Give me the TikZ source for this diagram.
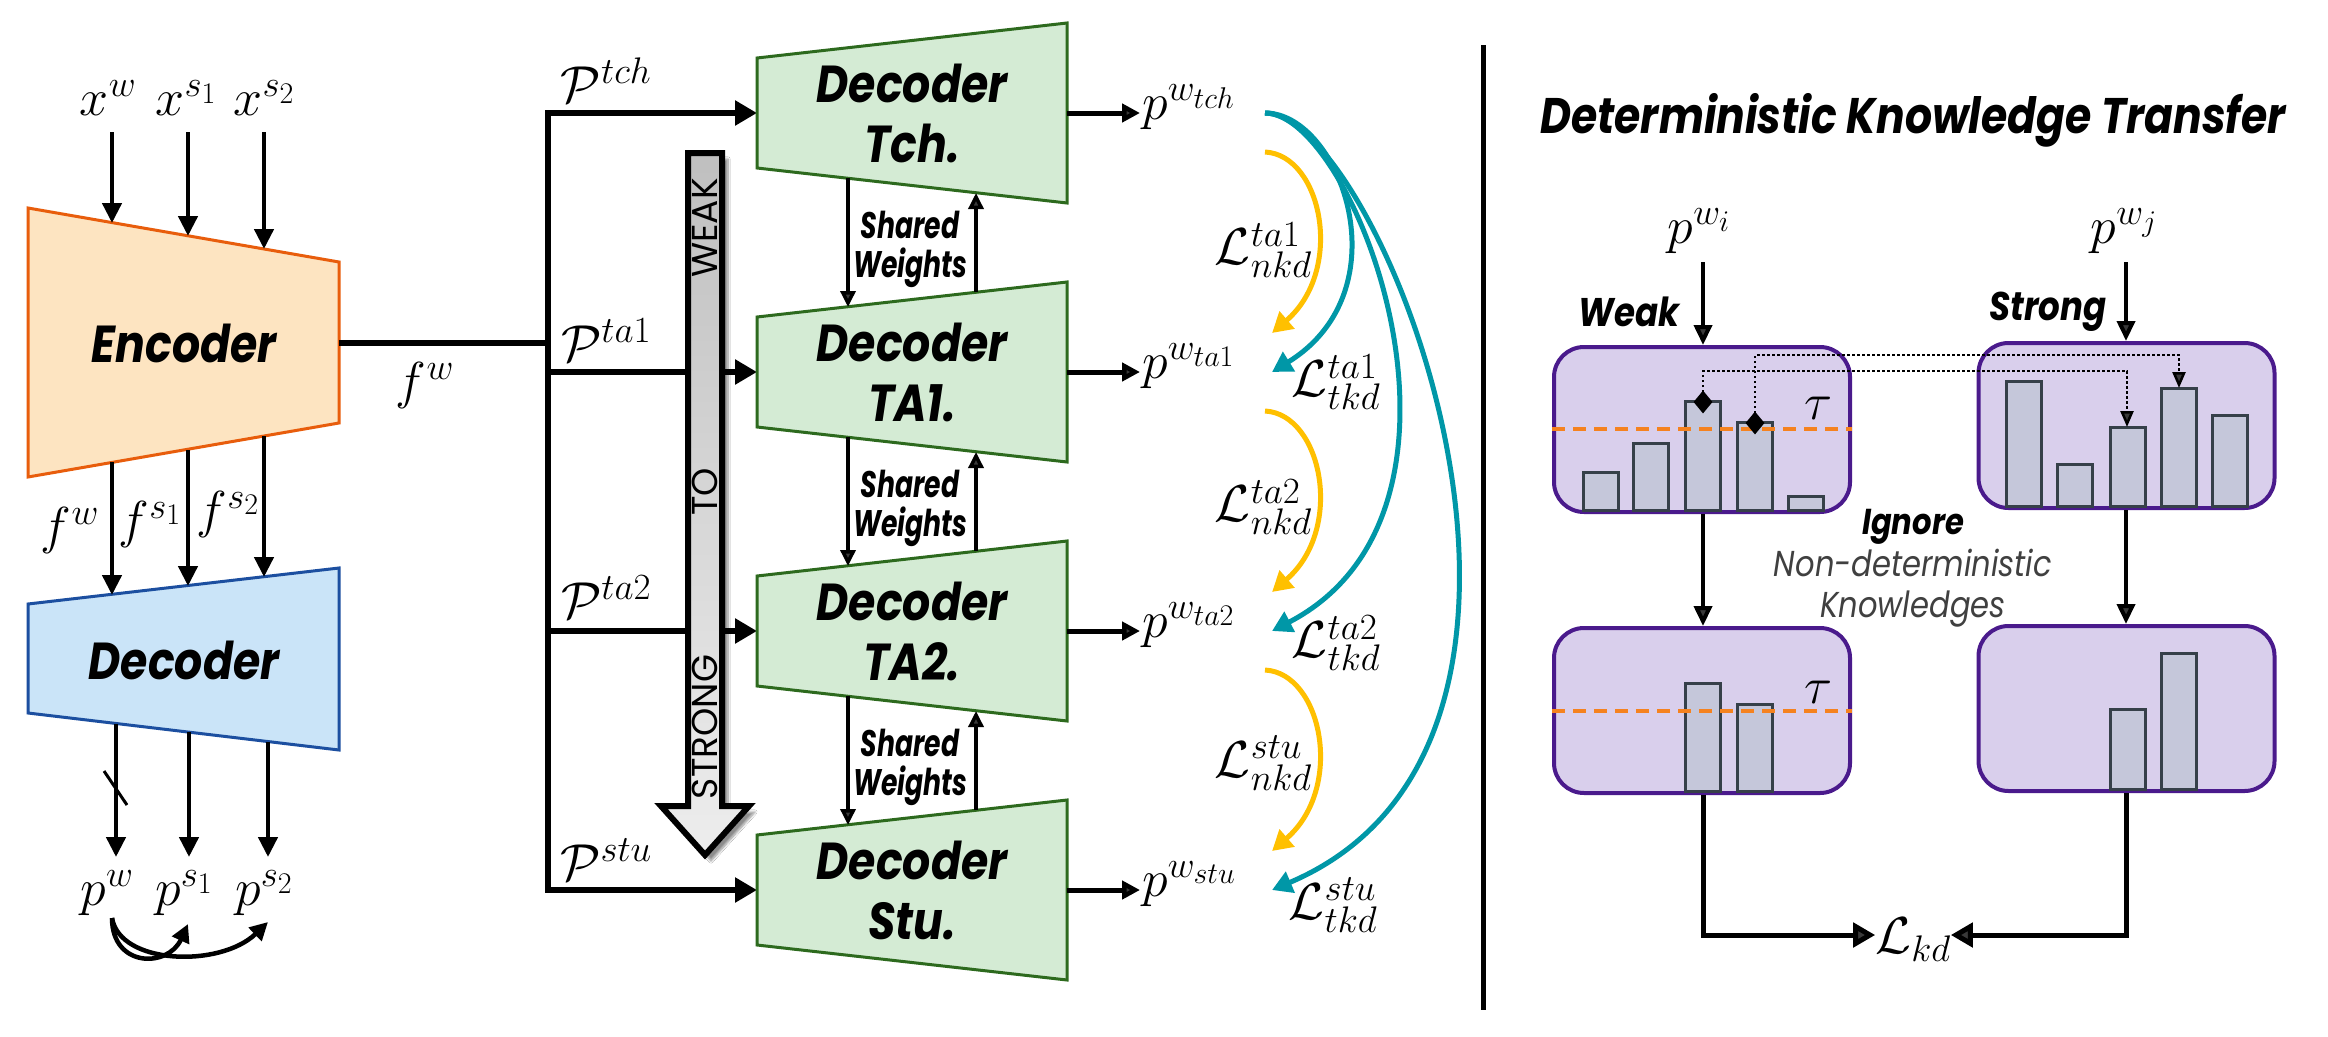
\RequirePackage{fix-cm}
\documentclass[tikz,border=0pt]{standalone}
\usepackage[no-math]{fontspec}
\setmainfont{Poppins}
\newfontfamily\fut{Poppins}[FakeStretch=0.85]
\newfontfamily\futc{Poppins}[FakeStretch=0.72]
\DeclareMathSizes{52}{52}{37}{30}
\usetikzlibrary{arrows.meta,shadows.blur,shapes.geometric}
\definecolor{encfill}{HTML}{FDE4C1}
\definecolor{encdraw}{HTML}{E85D0C}
\definecolor{decfill}{HTML}{CAE4F8}
\definecolor{decdraw}{HTML}{1C4FA0}
\definecolor{gfill}{HTML}{D4EBD4}
\definecolor{gdraw}{HTML}{2D6A1E}
\definecolor{tealc}{HTML}{0097A7}
\definecolor{yelc}{HTML}{FFC000}
\definecolor{pfill}{HTML}{D9CFEC}
\definecolor{pdraw}{HTML}{4A1A8C}
\definecolor{barfill}{HTML}{C5C7DA}
\definecolor{bardraw}{HTML}{364049}
\definecolor{dashc}{HTML}{F5821F}
\begin{document}
\begin{tikzpicture}[x=1pt,y=-1pt,
  ml/.style={inner sep=0pt, font=\fontsize{52}{58}\selectfont},
  bt/.style={inner sep=0pt, align=center, font=\fut\bfseries\itshape\fontsize{52}{60}\selectfont},
  sw/.style={inner sep=0pt, align=center, font=\futc\bfseries\itshape\fontsize{37}{39}\selectfont},
  wk/.style={inner sep=0pt, font=\fontsize{36}{40}\selectfont, rotate=90},
  arr/.style={line width=4.5pt, -{Triangle[length=20pt,width=19pt]}},
  sarr/.style={line width=3.5pt, -{Triangle[length=16pt,width=15pt]}},
  carr/.style={line width=4.5pt, -{Triangle[length=18pt,width=18pt]}},
  bus/.style={line width=6.5pt},
  busarr/.style={line width=6.5pt, -{Triangle[length=22pt,width=24pt]}},
  parr/.style={line width=5pt, -{Triangle[length=18pt,width=18pt]}},
  tarr/.style={tealc, line width=5pt, -{Triangle[length=20pt,width=22pt]}},
  yarr/.style={yelc, line width=5pt, -{Triangle[length=20pt,width=22pt]}},
  gdec/.style={gdraw, fill=gfill, line width=3pt, line join=miter},
  pbox/.style={draw=pdraw, fill=pfill, line width=4pt, rounded corners=30pt, minimum width=296pt, minimum height=165pt, inner sep=0pt},
  bar/.style={draw=bardraw, fill=barfill, line width=3pt},
  tau/.style={dashc, line width=4pt, dash pattern=on 13pt off 8pt},
  dotl/.style={line width=2.5pt, dash pattern=on 2.5pt off 2.5pt},
  diam/.style={diamond, fill=black, inner sep=0pt, minimum width=19pt, minimum height=23pt},
  rarr/.style={line width=4pt, -{Triangle[length=20pt,width=18pt]}},
  kdarr/.style={line width=5pt, -{Triangle[length=22pt,width=24pt]}},
]
\fill[white] (0,0) rectangle (2328,1036);
\useasboundingbox (0,0) rectangle (2328,1036);

% ---------------- left: encoder / decoder ----------------
\draw[encdraw, fill=encfill, line width=3pt] (28,208) -- (339,262) -- (339,423) -- (28,477) -- cycle;
\node[bt] (enc) at (184,343) {Encoder};
\node[ml] (xw) at (108,98) {$x^{w}$};
\node[ml] (xs1) at (186,98) {$x^{s_1}$};
\node[ml] (xs2) at (264,98) {$x^{s_2}$};
\coordinate (i1) at (112,132); \coordinate (e1) at (112,223);
\coordinate (i2) at (188,132); \coordinate (e2) at (188,236);
\coordinate (i3) at (264,132); \coordinate (e3) at (264,249);
\draw[arr] (i1) -- (e1);
\draw[arr] (i2) -- (e2);
\draw[arr] (i3) -- (e3);

\draw[decdraw, fill=decfill, line width=3pt] (28,604) -- (339,568) -- (339,750) -- (28,713) -- cycle;
\node[bt] (dec) at (184,660) {Decoder};
\coordinate (eb1) at (112,462); \coordinate (dt1) at (112,595);
\coordinate (eb2) at (188,450); \coordinate (dt2) at (188,586);
\coordinate (eb3) at (264,436); \coordinate (dt3) at (264,577);
\draw[arr] (eb1) -- (dt1);
\draw[arr] (eb2) -- (dt2);
\draw[arr] (eb3) -- (dt3);
\node[ml] (fw) at (70,530) {$f^{w}$};
\node[ml] (fs1) at (150,524) {$f^{s_1}$};
\node[ml] (fs2) at (228,514) {$f^{s_2}$};

\coordinate (db1) at (116,724); \coordinate (pt1) at (116,857);
\coordinate (db2) at (189,732); \coordinate (pt2) at (189,857);
\coordinate (db3) at (268,742); \coordinate (pt3) at (268,857);
\draw[arr] (db1) -- (pt1);
\draw[arr] (db2) -- (pt2);
\draw[arr] (db3) -- (pt3);
\coordinate (sl1) at (104,771); \coordinate (sl2) at (127,805);
\draw[line width=3pt] (sl1) -- (sl2);
\node[ml] (pw) at (107,893) {$p^{w}$};
\node[ml] (ps1) at (184,893) {$p^{s_1}$};
\node[ml] (ps2) at (264,893) {$p^{s_2}$};
\coordinate (cs) at (112,918);
\coordinate (ce1) at (188,924);
\coordinate (ce2) at (268,922);
\draw[carr] (cs) .. controls (112,968) and (168,968) .. (ce1);
\draw[carr] (cs) .. controls (120,965) and (220,968) .. (ce2);

% ---------------- middle: bus and decoders ----------------
\coordinate (encR) at (339,343);
\coordinate (busF) at (548,343);
\draw[bus] (encR) -- (busF);
\node[ml] (fwl) at (425,385) {$f^{w}$};
\coordinate (busT) at (548,113);
\coordinate (busB) at (548,890);
\coordinate (inTch) at (757,113);
\coordinate (inStu) at (757,890);
\draw[bus, line join=miter, {Triangle[length=22pt,width=24pt]}-{Triangle[length=22pt,width=24pt]}] (inTch) -- (busT) -- (busB) -- (inStu);
\coordinate (bA) at (548,372); \coordinate (inA) at (757,372);
\coordinate (bB) at (548,631); \coordinate (inB) at (757,631);
\draw[busarr] (bA) -- (inA);
\draw[busarr] (bB) -- (inB);
\node[ml] (Ptch) at (606,80) {$\mathcal{P}^{tch}$};
\node[ml] (Pta1) at (606,340) {$\mathcal{P}^{ta1}$};
\node[ml] (Pta2) at (606,597) {$\mathcal{P}^{ta2}$};
\node[ml] (Pstu) at (606,860) {$\mathcal{P}^{stu}$};

% weak-to-strong arrow
\draw[line width=6pt, line join=miter, top color=black!25, bottom color=black!7,
  blur shadow={shadow xshift=6pt, shadow yshift=-6pt, shadow blur steps=8, shadow opacity=45}]
  (688,153) -- (722,153) -- (722,806) -- (749,806) -- (705,855) -- (661,806) -- (688,806) -- cycle;
\node[wk] (wWeak) at (705,228) {WEAK};
\node[wk] (wTo) at (705,492) {TO};
\node[wk] (wStrong) at (705,727) {STRONG};

\foreach \k/\nm/\lab in {0/tch/Tch.,1/ta1/TA1.,2/ta2/TA2.,3/stu/Stu.}{
  \pgfmathsetmacro\o{259*\k}
  \draw[gdec] (757,58+\o) -- (1067,23+\o) -- (1067,203+\o) -- (757,168+\o) -- cycle;
  \node[bt] (d\nm) at (912,113+\o) {Decoder\\\lab};
  \coordinate (o\nm) at (1067,113+\o);
  \coordinate (t\nm) at (1140,113+\o);
  \draw[parr] (o\nm) -- (t\nm);
  \node[ml, anchor=west] (p\nm) at (1142,107+\o) {$p^{w_{\nm}}$};
}
\foreach \k in {0,1,2}{
  \pgfmathsetmacro\o{259*\k}
  \coordinate (sa\k) at (848,178+\o); \coordinate (sb\k) at (848,307+\o);
  \coordinate (sc\k) at (976,292+\o); \coordinate (sd\k) at (976,193+\o);
  \draw[sarr] (sa\k) -- (sb\k);
  \draw[sarr] (sc\k) -- (sd\k);
  \node[sw] (sw\k) at (910,249+\o) {Shared\\Weights};
}

% arcs
\coordinate (ts) at (1265,113);
\coordinate (te1) at (1272,372);
\coordinate (te2) at (1272,631);
\coordinate (te3) at (1272,890);
\draw[tarr] (ts) .. controls (1340,113) and (1405,290) .. (te1);
\draw[tarr] (ts) .. controls (1355,113) and (1505,510) .. (te2);
\draw[tarr] (ts) .. controls (1380,113) and (1625,740) .. (te3);
\foreach \k in {0,1,2}{
  \pgfmathsetmacro\o{259*\k}
  \coordinate (ys\k) at (1265,152+\o);
  \coordinate (ye\k) at (1272,333+\o);
  \draw[yarr] (ys\k) .. controls (1322,155+\o) and (1345,270+\o) .. (ye\k);
}
\node[ml, anchor=east] (Ln1) at (1312,250) {$\mathcal{L}^{ta1}_{nkd}$};
\node[ml, anchor=east] (Ln2) at (1312,507) {$\mathcal{L}^{ta2}_{nkd}$};
\node[ml, anchor=east] (Ln3) at (1312,763) {$\mathcal{L}^{stu}_{nkd}$};
\node[ml] (Lt1) at (1336,382) {$\mathcal{L}^{ta1}_{tkd}$};
\node[ml] (Lt2) at (1336,643) {$\mathcal{L}^{ta2}_{tkd}$};
\node[ml] (Lt3) at (1333,905) {$\mathcal{L}^{stu}_{tkd}$};

% divider
\coordinate (dvT) at (1483,45); \coordinate (dvB) at (1483,1010);
\draw[line width=5pt] (dvT) -- (dvB);

% ---------------- right panel ----------------
\node[bt, font=\fut\bfseries\itshape\fontsize{50}{56}\selectfont] (title) at (1913,120) {Deterministic Knowledge Transfer};
\node[ml] (pwi) at (1699,231) {$p^{w_i}$};
\node[ml] (pwj) at (2124,231) {$p^{w_j}$};
\node[inner sep=0pt, font=\fut\bfseries\itshape\fontsize{40}{44}\selectfont] (weak) at (1629,312) {Weak};
\node[inner sep=0pt, font=\fut\bfseries\itshape\fontsize{40}{44}\selectfont] (strong) at (2048,312) {Strong};

\node[pbox] (b1) at (1702,429.5) {};
\node[pbox] (b2) at (2126.5,425.5) {};
\node[pbox] (b3) at (1702,710.5) {};
\node[pbox] (b4) at (2126.5,708.5) {};

\coordinate (a1s) at (1703,262); \coordinate (a2s) at (2126,262);
\draw[rarr] (a1s) -- (b1.north -| a1s);
\draw[rarr] (a2s) -- (b2.north -| a2s);

\foreach \xa/\xb/\t in {1583/1618/472,1633/1668/443,1685/1720/401,1737/1772/422,1788/1823/496}{
  \draw[bar] (\xa,510) rectangle (\xb,\t);
}
\foreach \xa/\xb/\t in {2006/2041/381,2057/2092/464,2110/2145/427,2161/2196/388,2212/2247/415}{
  \draw[bar] (\xa,506) rectangle (\xb,\t);
}
\draw[bar] (1685,791) rectangle (1720,683);
\draw[bar] (1737,791) rectangle (1772,704);
\draw[bar] (2110,789) rectangle (2145,709);
\draw[bar] (2161,789) rectangle (2196,653);

\draw[tau] (b1.west |- 0,429) -- (b1.east |- 0,429);
\draw[tau] (b3.west |- 0,711) -- (b3.east |- 0,711);
\node[ml] (tau1) at (1818,408) {$\tau$};
\node[ml] (tau2) at (1818,692) {$\tau$};

\node[diam] (dm1) at (1703,402) {};
\node[diam] (dm2) at (1755,423) {};
\coordinate (k1) at (2127,427);
\coordinate (k2) at (2179,388);
\draw[dotl, -{Triangle[length=16pt,width=13pt]}] (dm1.center) -- (1703,371) -- (2127,371) -- (k1);
\draw[dotl, -{Triangle[length=16pt,width=13pt]}] (dm2.center) -- (1755,355) -- (2179,355) -- (k2);

\draw[rarr] (b1.south -| a1s) -- (b3.north -| a1s);
\draw[rarr] (b2.south -| a2s) -- (b4.north -| a2s);

\node[inner sep=0pt, font=\fut\bfseries\itshape\fontsize{36}{40}\selectfont] (ign) at (1913,527) {Ignore};
\node[inner sep=0pt, align=center, text=black!75, font=\fut\itshape\fontsize{36}{41}\selectfont] (nondet) at (1913,588) {Non-deterministic\\Knowledges};

\node[ml] (Lkd) at (1913,940) {$\mathcal{L}_{kd}$};
\coordinate (kdl) at (1703,935);
\coordinate (kdr) at (2126,935);
\draw[kdarr] (b3.south -| a1s) -- (kdl) -- (Lkd.west |- kdl);
\draw[kdarr] (b4.south -| a2s) -- (kdr) -- (Lkd.east |- kdr);
\end{tikzpicture}
\end{document}
